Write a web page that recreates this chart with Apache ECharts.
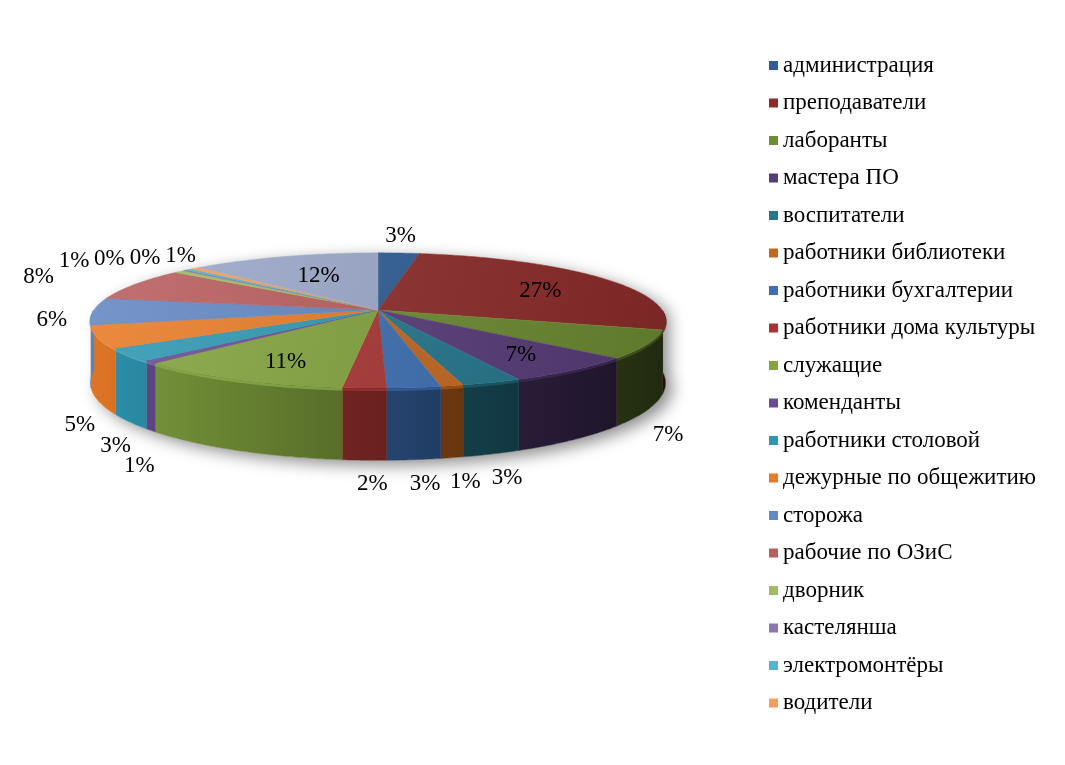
<!DOCTYPE html>
<html lang="ru">
<head>
    <meta charset="UTF-8">
    <title>Структура персонала</title>
    <script src="https://cdn.jsdelivr.net/npm/echarts@6/dist/echarts.min.js"></script>
    <style>
        html, body { margin: 0; padding: 0; background: #fff; }
        #pieChart { width: 1065px; height: 765px; }
    </style>
</head>
<body>
<div id="pieChart"></div>
<script type="text/javascript">
    // категории (последний сектор в легенде не подписан)
    var categories = ['администрация', 'преподаватели', 'лаборанты', 'мастера ПО', 'воспитатели',
        'работники библиотеки', 'работники бухгалтерии', 'работники дома культуры', 'служащие',
        'коменданты', 'работники столовой', 'дежурные по общежитию', 'сторожа', 'рабочие по ОЗиС',
        'дворник', 'кастелянша', 'электромонтёры', 'водители', 'прочие'];
    // доли, %
    var shares = [2.7, 27.0, 6.7, 6.6, 2.9, 1.1, 2.6, 2.1, 10.6, 0.7, 3.1, 5.4, 6.4, 7.8, 0.7, 0.3, 0.4, 0.6, 12.3];
    var legendNames = categories.slice(0, 18);
    var colors = ['#2F5E97', '#8E2C2A', '#6F8D33', '#583D7A', '#24778D', '#C4671E', '#3C6FB4',
        '#A93533', '#83A43E', '#6B4C92', '#2E98B4', '#E97B26', '#6388C3', '#B95E5C', '#A0BB65',
        '#8B76AC', '#55B4CF', '#F59E5C', '#9CAACB'];

    var pieChart = echarts.init(document.getElementById('pieChart'));

    // геометрия объёмного круга
    var CX = 378, CY = 310, RX = 284, RY = 66, K = 0.155, H = 61;
    var FONT_FAMILY = '"Liberation Serif", "DejaVu Serif", serif';
    var FONT_SIZE = 23;
    var FONT = FONT_SIZE + 'px ' + FONT_FAMILY;

    var total = shares.reduce(function (s, v) { return s + v; }, 0);
    var starts = [];
    var acc = 0;
    shares.forEach(function (v) { starts.push(acc); acc += v; });

    // угол a по часовой от 12 часов, f - доля радиуса, d - опускание вниз
    function proj(a, f, d) {
        var s = -Math.cos(a);
        var p = 1 / (1 - K * s);
        return [CX + RX * f * Math.sin(a) * p, CY + (RY * f * s + d) * p];
    }
    function shade(hex, k) {
        var n = parseInt(hex.slice(1), 16);
        var rgb = [(n >> 16) & 255, (n >> 8) & 255, n & 255].map(function (x) {
            var y = k > 1 ? x + (255 - x) * (k - 1) : x * k;
            return Math.max(0, Math.min(255, Math.round(y)));
        });
        return 'rgb(' + rgb.join(',') + ')';
    }
    function arc(a0, a1, f, d) {
        var pts = [];
        var n = Math.max(2, Math.ceil((a1 - a0) / 0.01));
        for (var j = 0; j <= n; j++) {
            pts.push(proj(a0 + (a1 - a0) * j / n, f, d));
        }
        return pts;
    }

    // подписи: внутри, если сектор достаточно широкий, иначе снаружи
    var ctx = document.createElement('canvas').getContext('2d');
    ctx.font = FONT;
    var labels = shares.map(function (v, i) {
        var a0 = starts[i] / total * 2 * Math.PI;
        var a1 = (starts[i] + v) / total * 2 * Math.PI;
        var mid = (a0 + a1) / 2;
        var sin = Math.sin(mid), cos = Math.cos(mid);
        var text = Math.round(v / total * 100) + '%';
        var w = ctx.measureText(text).width, h = 20;
        var c0 = proj(a0, 0.66, 0), c1 = proj(a1, 0.66, 0);
        var q;
        if (Math.hypot(c1[0] - c0[0], c1[1] - c0[1]) >= 55) {
            q = proj(mid, 0.7, 0);
            return {text: text, x: q[0] + 6, y: q[1] + 3, w: w, h: h, inside: true, a: mid};
        }
        if (cos < -0.15) {
            // передние сектора: под стенкой
            q = proj(mid, 1, H);
            return {text: text, x: q[0] + 22 * sin + 9 * cos * cos, y: q[1] + 24, w: w, h: h, inside: false, a: mid};
        }
        q = proj(mid, 1, 0);
        var side = Math.max(0, (Math.abs(sin) - 0.85) / 0.15) * 20;
        return {
            text: text, w: w, h: h, inside: false, a: mid,
            x: q[0] + sin * (w / 2 + 6) + (sin < 0 ? -side : side),
            y: q[1] - cos * (h / 2 + 7) + (cos < 0.1 ? 8 : 0)
        };
    });
    // раздвигаем наложившиеся подписи
    var placed = labels.filter(function (l) { return l.inside; });
    for (var i = labels.length - 1; i >= 0; i--) {
        var l = labels[i];
        if (l.inside) continue;
        var guard = 0;
        while (guard++ < 300 && placed.some(function (o) {
            return Math.abs(o.x - l.x) < (o.w + l.w) / 2 + 4 && Math.abs(o.y - l.y) < (o.h + l.h) / 2;
        })) {
            if (Math.cos(l.a) > 0) l.x += l.x < CX ? -1 : 1;
            else l.y += 1;
        }
        placed.push(l);
    }

    function lit(x) {
        var t = (x - (CX - RX)) / (2 * RX);
        return 0.95 - 0.65 * t;
    }

    function renderSlice(params, api) {
        var i = params.dataIndex;
        var a0 = api.value(1) / total * 2 * Math.PI;
        var a1 = (api.value(1) + api.value(0)) / total * 2 * Math.PI;
        var col = colors[i];
        var children = [];

        if (i === 0) {
            // тень под кругом
            var sil = arc(Math.PI / 2, 3 * Math.PI / 2, 1, H).concat(arc(3 * Math.PI / 2, 5 * Math.PI / 2, 1, 0));
            children.push({
                type: 'polygon', z2: -1, shape: {points: sil},
                style: {fill: '#ffffff', shadowBlur: 16, shadowColor: 'rgba(0,0,0,0.45)', shadowOffsetX: 7, shadowOffsetY: 5}
            });
        }

        // боковая стенка (только видимая передняя часть)
        var w0 = Math.max(a0, Math.PI / 2), w1 = Math.min(a1, 3 * Math.PI / 2);
        if (w1 > w0) {
            var upper = arc(w0, w1, 1, 0);
            var lower = arc(w0, w1, 1, H).reverse();
            var xs = upper.map(function (p) { return p[0]; });
            var xl = Math.min.apply(null, xs), xr = Math.max.apply(null, xs);
            if (xr - xl < 1) xr = xl + 1;
            children.push({
                type: 'polygon', z2: 0, shape: {points: upper.concat(lower)},
                style: {
                    fill: {
                        type: 'linear', x: xl, y: 0, x2: xr, y2: 0, global: true,
                        colorStops: [{offset: 0, color: shade(col, lit(xl))}, {offset: 1, color: shade(col, lit(xr))}]
                    },
                    stroke: shade(col, lit((xl + xr) / 2)), lineWidth: 0.5
                }
            });
            // светлая фаска по верхнему краю стенки
            children.push({
                type: 'polyline', z2: 0.5, shape: {points: arc(w0, w1, 1, 1.5)},
                style: {stroke: shade(col, Math.min(1.2, lit((xl + xr) / 2) + 0.3)), lineWidth: 2.5, opacity: 0.75, fill: null}
            });
        }

        // верхняя грань
        children.push({
            type: 'polygon', z2: 1, shape: {points: [[CX, CY]].concat(arc(a0, a1, 1, 0))},
            style: {
                fill: {
                    type: 'linear', x: CX - RX, y: CY - RY, x2: CX + RX, y2: CY + RY, global: true,
                    colorStops: [{offset: 0, color: shade(col, 1.12)}, {offset: 1, color: shade(col, 0.86)}]
                },
                stroke: col, lineWidth: 0.5
            }
        });

        var L = labels[i];
        children.push({
            type: 'text', z2: 2,
            style: {text: L.text, x: L.x, y: L.y, align: 'center', verticalAlign: 'middle', font: FONT, fill: '#000'}
        });
        return {type: 'group', children: children};
    }

    pieChart.setOption({
        animation: false,
        legend: {
            data: legendNames,
            orient: 'vertical',
            left: 764,
            top: 49,
            itemWidth: 9,
            itemHeight: 9,
            itemGap: 14.5,
            icon: 'rect',
            selectedMode: false,
            textStyle: {fontFamily: FONT_FAMILY, fontSize: FONT_SIZE, lineHeight: 23, color: '#000'}
        },
        series: [
            {
                type: 'custom',
                name: 'pie3d',
                coordinateSystem: 'none',
                silent: true,
                renderItem: renderSlice,
                data: shares.map(function (v, i) { return {name: categories[i], value: [v, starts[i]]}; })
            },
            {
                type: 'pie',
                name: 'legendSource',
                radius: [0, 0],
                center: [-50, -50],
                silent: true,
                label: {show: false},
                data: shares.map(function (v, i) {
                    return {name: categories[i], value: v, itemStyle: {color: colors[i]}};
                })
            }
        ]
    });

    window.onresize = function () {
        pieChart.resize();
    };
</script>
</body>
</html>
